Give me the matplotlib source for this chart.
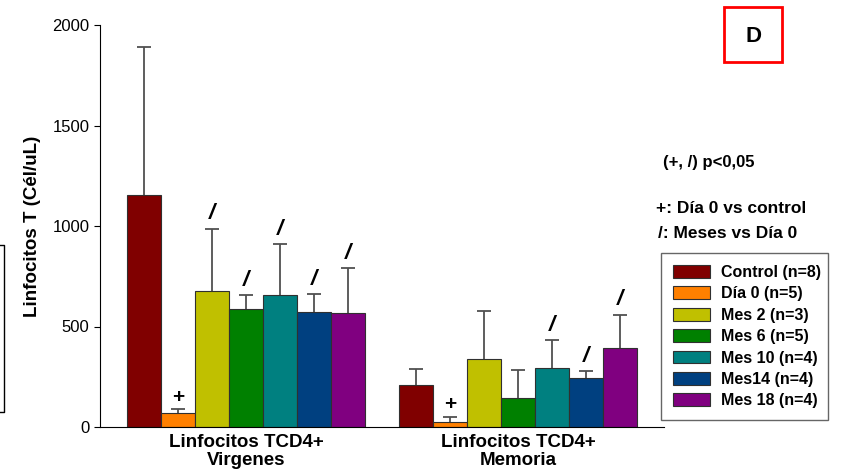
import numpy as np
import matplotlib
matplotlib.use("Agg")
import matplotlib.pyplot as plt
from matplotlib.lines import Line2D
from matplotlib.patches import Rectangle

plt.rcParams['font.family'] = ['Liberation Sans', 'DejaVu Sans']

# data
groups = ["Linfocitos TCD4+\nVirgenes", "Linfocitos TCD4+\nMemoria"]
series = ["Control (n=8)", "Día 0 (n=5)", "Mes 2 (n=3)", "Mes 6 (n=5)",
          "Mes 10 (n=4)", "Mes14 (n=4)", "Mes 18 (n=4)"]
colors = ["#800000", "#FF8000", "#C0C000", "#008000",
          "#008080", "#004080", "#800080"]
means = np.array([
    [1154, 68, 677, 585, 658, 572, 567],
    [211, 25, 340, 143, 294, 242, 393],
])
upper = np.array([
    [1889, 88, 987, 655, 912, 663, 791],
    [289, 50, 579, 282, 431, 277, 559],
])
# significance marks above each bar
marks = [
    ["", "+", "/", "/", "/", "/", "/"],
    ["", "+", "", "", "/", "/", "/"],
]

W, H = 847, 475
fig = plt.figure(figsize=(W / 100, H / 100), dpi=100)
ax = fig.add_axes([100 / W, 1 - 427 / H, 564 / W, 402 / H])

width = 1.0
starts = [27 / 34, 299 / 34]
for g in range(len(groups)):
    for i in range(len(series)):
        x = starts[g] + i * width + width / 2
        ax.bar(x, means[g, i], width=width, color=colors[i],
               edgecolor="#303030", linewidth=0.8, zorder=2,
               label=series[i] if g == 0 else None)
        # upper error bar only
        ax.vlines(x, means[g, i], upper[g, i], color="#505050", linewidth=1.3, zorder=1)
        ax.plot([x], [upper[g, i]], marker="_", markersize=9.5, markeredgewidth=1.3,
                color="#505050", zorder=1)
        m = marks[g][i]
        if m == "+":
            ax.annotate("+", (x, upper[g, i]), xytext=(0, 2),
                        textcoords="offset points", ha="center", va="bottom",
                        fontsize=15, fontweight="bold")
        elif m == "/":
            ax.annotate("/", (x, upper[g, i]), xytext=(0, 3),
                        textcoords="offset points", ha="center", va="bottom",
                        fontsize=16, fontweight="bold", style="italic")

ax.set_xlim(0, 564 / 34)
ax.set_ylim(0, 2000)
ax.set_yticks([0, 500, 1000, 1500, 2000])
ax.tick_params(axis="y", labelsize=12, length=4, direction="out")
ax.set_xticks([starts[0] + 3.5, starts[1] + 3.5])
ax.set_xticklabels(groups, fontsize=13.5, fontweight="bold", linespacing=1.1)
ax.tick_params(axis="x", length=0, pad=5)
ax.spines["top"].set_visible(False)
ax.spines["right"].set_visible(False)
ax.set_ylabel("Linfocitos T (Cél/uL)", fontsize=13.5, fontweight="bold", labelpad=8)

leg = ax.legend(loc="upper left", bbox_to_anchor=(661 / W, 1 - 417 / H, 167 / W, 164 / H),
                bbox_transform=fig.transFigure, mode="expand",
                prop={"weight": "bold", "size": 11.5},
                frameon=True, fancybox=False, handlelength=2.3, handleheight=0.85,
                labelspacing=0.4, borderpad=0.75, handletextpad=0.7, borderaxespad=0)
leg.get_frame().set_edgecolor("#404040")
leg.get_frame().set_linewidth(1.0)

fig.text(663 / W, 1 - 162 / H, "(+, /) p<0,05", fontsize=12, fontweight="bold", va="center")
fig.text(656 / W, 1 - 208 / H, "+: Día 0 vs control", fontsize=12.5, fontweight="bold", va="center")
fig.text(658 / W, 1 - 234 / H, "/: Meses vs Día 0", fontsize=12.5, fontweight="bold", va="center")

# "D" panel box
fig.patches.append(Rectangle((724 / W, 1 - 62 / H), 58 / W, 55 / H, transform=fig.transFigure,
                             fill=False, edgecolor="red", linewidth=2))
fig.text(753 / W, 1 - 36 / H, "D", fontsize=16, fontweight="bold", ha="center", va="center")

# partial frame at the left edge
fig.lines.append(Line2D([0, 4 / W, 4 / W, 0], [1 - 245 / H, 1 - 245 / H, 1 - 412 / H, 1 - 412 / H],
                        transform=fig.transFigure, color="black", linewidth=1))

fig.savefig("out.png", dpi=100)
